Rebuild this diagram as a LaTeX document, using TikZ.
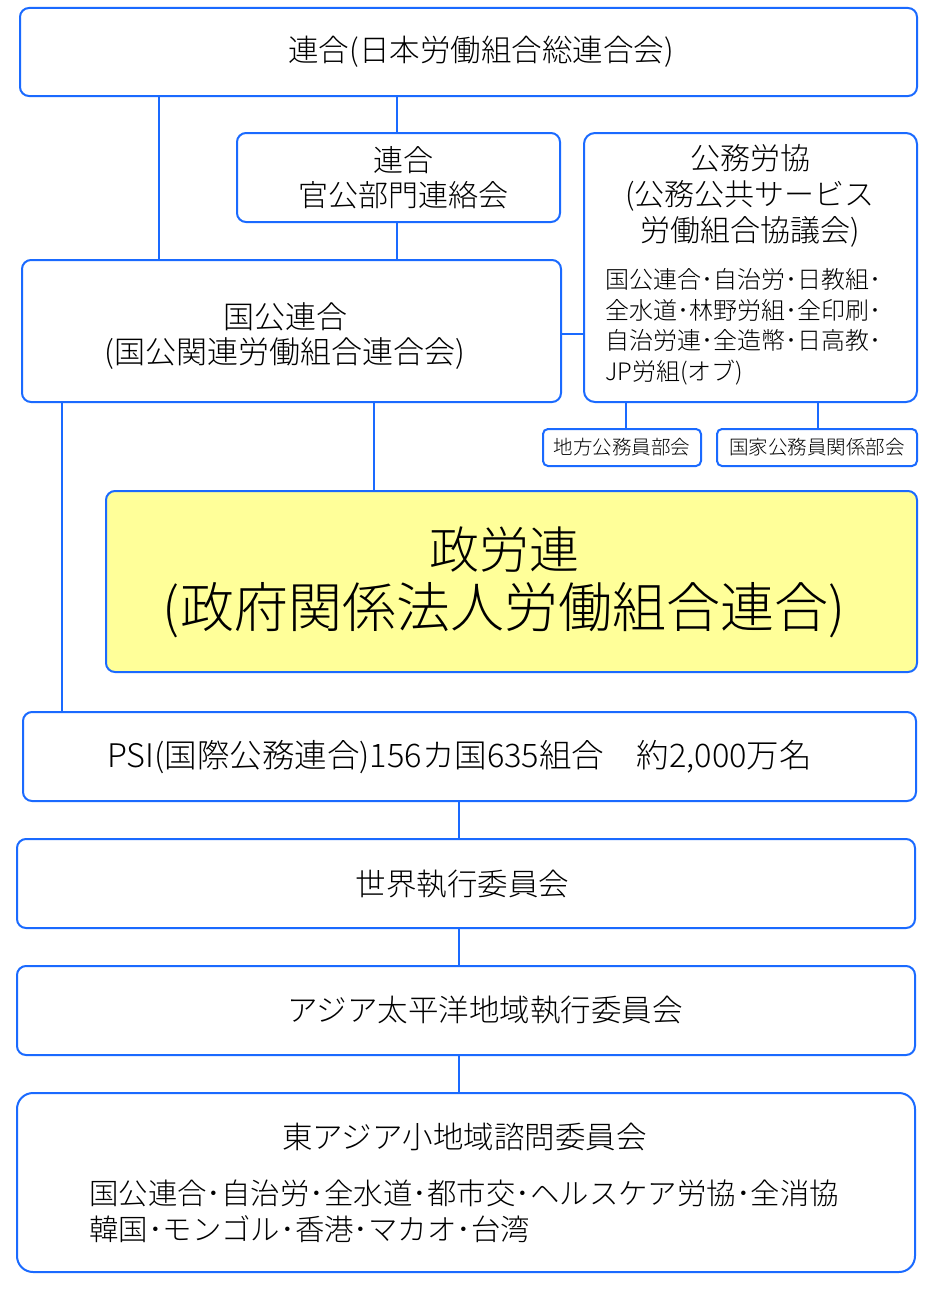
\documentclass[tikz,border=0pt]{standalone}
\usepackage{fontspec}
\setmainfont{Noto Sans CJK JP Light}
\definecolor{lineblue}{HTML}{1A6AFF}
\definecolor{boxyellow}{HTML}{FFFF99}
\begin{document}
\begin{tikzpicture}[x=1pt, y=-1pt,
  box/.style={draw=lineblue, line width=2pt, rounded corners=9pt, fill=white, inner sep=0pt},
  smallbox/.style={box, rounded corners=5pt, font=\fontsize{19.5}{22}\selectfont},
  txt/.style={align=center, inner sep=0pt, font=\fontsize{30.5}{35}\selectfont},
  listtxt/.style={align=left, anchor=west, inner sep=0pt},
  link/.style={draw=lineblue, line width=2pt}]
\useasboundingbox (0,0) rectangle (932,1290);
% boxes
\node[box, minimum width=897pt, minimum height=88pt] (rengo) at (468.5,52) {};
\node[box, minimum width=323pt, minimum height=89pt] (kankou) at (398.5,177.5) {};
\node[box, minimum width=333pt, minimum height=269pt, rounded corners=11pt] (koumu) at (750.5,267.5) {};
\node[box, minimum width=539pt, minimum height=142pt] (kokkou) at (291.5,331) {};
\node[smallbox, minimum width=158pt, minimum height=37pt] (chihou) at (622,447.5) {地方公務員部会};
\node[smallbox, minimum width=200pt, minimum height=37pt] (kokka) at (817,447.5) {国家公務員関係部会};
\node[box, fill=boxyellow, minimum width=811pt, minimum height=181pt] (seirou) at (511.5,581.5) {};
\node[box, minimum width=893pt, minimum height=89pt] (psi) at (469.5,756.5) {};
\node[box, minimum width=898pt, minimum height=89pt] (sekai) at (466,883.5) {};
\node[box, minimum width=898pt, minimum height=89pt] (asia) at (466,1010.5) {};
\node[box, minimum width=898pt, minimum height=179pt, rounded corners=16pt] (higashi) at (466,1182.5) {};
% texts
\node[txt] (rengotext) at (481,52) {連合(日本労働組合総連合会)};
\node[txt, font=\fontsize{30}{35}\selectfont] (kankoutext) at (403,177.5) {連合\\官公部門連絡会};
\node[txt, font=\fontsize{30}{36}\selectfont] (koumutitle) at (750,196) {公務労協\\(公務公共サービス\\労働組合協議会)};
\node[listtxt, font=\fontsize{24}{30.5}\selectfont] (koumulist) at (605,327) {国公連合･自治労･日教組･\\全水道･林野労組･全印刷･\\自治労連･全造幣･日高教･\\JP労組(オブ)};
\node[txt, font=\fontsize{31}{35}\selectfont] (kokkoutext) at (285,336) {国公連合\\(国公関連労働組合連合会)};
\node[txt] (seiroutext) at (504,582.5) {{\fontsize{50}{59}\selectfont 政労連}\\[9pt]{\fontsize{54}{59}\selectfont (政府関係法人労働組合連合)}};
\node[txt, font=\fontsize{32.5}{35}\selectfont] (psitext) at (459.5,757) {PSI(国際公務連合)156カ国635組合　約2,000万名};
\node[txt] (sekaitext) at (462.5,884) {世界執行委員会};
\node[txt] (asiatext) at (485,1010) {アジア太平洋地域執行委員会};
\node[txt] (higashititle) at (464.5,1137) {東アジア小地域諮問委員会};
\node[listtxt, font=\fontsize{29.4}{36}\selectfont] (higashilist) at (89,1211) {国公連合･自治労･全水道･都市交･ヘルスケア労協･全消協\\韓国･モンゴル･香港･マカオ･台湾};
% links
\draw[link] (rengo.south -| 159,0) -- (kokkou.north -| 159,0);
\draw[link] (rengo.south -| 397,0) -- (kankou.north -| 397,0);
\draw[link] (kankou.south -| 397,0) -- (kokkou.north -| 397,0);
\draw[link] (kokkou.east |- 0,334) -- (koumu.west |- 0,334);
\draw[link] (koumu.south -| 626,0) -- (chihou.north -| 626,0);
\draw[link] (koumu.south -| 818,0) -- (kokka.north -| 818,0);
\draw[link] (kokkou.south -| 62,0) -- (psi.north -| 62,0);
\draw[link] (kokkou.south -| 374,0) -- (seirou.north -| 374,0);
\draw[link] (psi.south -| 459,0) -- (sekai.north -| 459,0);
\draw[link] (sekai.south -| 459,0) -- (asia.north -| 459,0);
\draw[link] (asia.south -| 459,0) -- (higashi.north -| 459,0);
\end{tikzpicture}
\end{document}
